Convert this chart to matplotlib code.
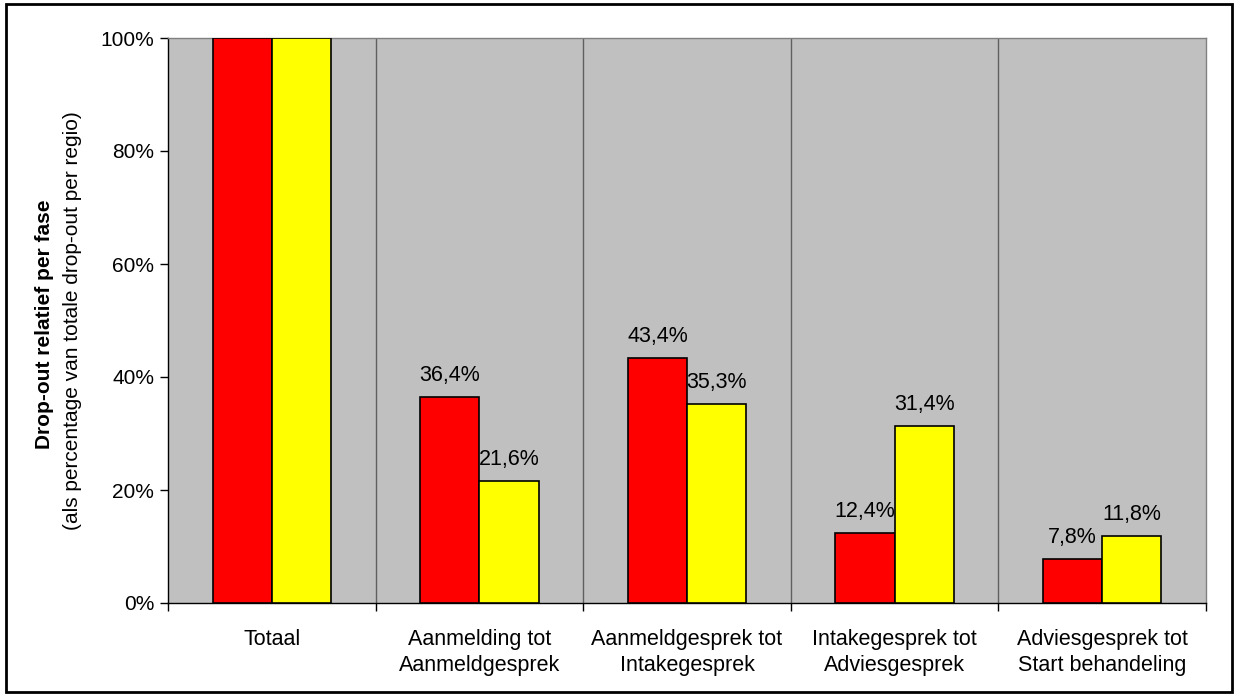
import matplotlib
matplotlib.use("Agg")
import matplotlib.pyplot as plt
import numpy as np
from matplotlib.ticker import FixedLocator, PercentFormatter

plt.rcParams['font.family'] = ['Liberation Sans', 'DejaVu Sans']

categories = ["Totaal", "Aanmelding tot\nAanmeldgesprek", "Aanmeldgesprek tot\nIntakegesprek",
              "Intakegesprek tot\nAdviesgesprek", "Adviesgesprek tot\nStart behandeling"]
red_values = [100.0, 36.4, 43.4, 12.4, 7.8]
yellow_values = [100.0, 21.6, 35.3, 31.4, 11.8]
red_labels = [None, "36,4%", "43,4%", "12,4%", "7,8%"]
yellow_labels = [None, "21,6%", "35,3%", "31,4%", "11,8%"]

fig = plt.figure(figsize=(12.38, 6.96), dpi=100)
fig.patch.set_facecolor('white')
ax = fig.add_axes([168/1238, 1-603/696, (1206-168)/1238, (603-38)/696])
ax.set_facecolor('#C0C0C0')

n = len(categories)
x = np.arange(n)
w = 0.285
ax.bar(x - w/2, red_values, w, color='#FF0000', edgecolor='black', linewidth=1.2, zorder=3)
ax.bar(x + w/2, yellow_values, w, color='#FFFF00', edgecolor='black', linewidth=1.2, zorder=3)

for i in range(n):
    if red_labels[i]:
        ax.annotate(red_labels[i], (x[i] - w/2, red_values[i]), xytext=(0, 11.5), textcoords='offset points',
                    ha='center', va='baseline', fontsize=15.5)
    if yellow_labels[i]:
        ax.annotate(yellow_labels[i], (x[i] + w/2, yellow_values[i]), xytext=(0, 11.5), textcoords='offset points',
                    ha='center', va='baseline', fontsize=15.5)

for b in np.arange(0.5, n - 0.5, 1.0):
    ax.axvline(b, color='#606060', linewidth=1.0, zorder=2)

ax.set_xlim(-0.5, n - 0.5)
ax.set_ylim(0, 100)
ax.set_yticks(np.arange(0, 101, 20))
ax.yaxis.set_major_formatter(PercentFormatter(decimals=0))
ax.set_xticks(x)
ax.set_xticklabels(categories, fontsize=15.5, linespacing=1.3)
ax.xaxis.set_minor_locator(FixedLocator(np.arange(-0.5, n, 1.0)))
ax.tick_params(axis='x', which='major', length=0, pad=19)
ax.tick_params(axis='x', which='minor', length=6, width=1, direction='out', color='black')
ax.tick_params(axis='y', length=6, width=1, direction='out', labelsize=15, pad=4)

for s in ['left', 'bottom']:
    ax.spines[s].set_color('black')
    ax.spines[s].set_linewidth(1.0)
for s in ['top', 'right']:
    ax.spines[s].set_color('#808080')
    ax.spines[s].set_linewidth(1.0)

ax.text((45-168)/1038, 0.494, "Drop-out relatief per fase", transform=ax.transAxes, rotation=90,
        ha='center', va='center', fontsize=15, fontweight='bold')
ax.text((73-168)/1038, 0.5, "(als percentage van totale drop-out per regio)", transform=ax.transAxes, rotation=90,
        ha='center', va='center', fontsize=15)

border = plt.Rectangle((6/1238, 4/696), (1232-6)/1238, (692-4)/696, transform=fig.transFigure,
                       fill=False, edgecolor='black', linewidth=2)
fig.patches.append(border)

fig.savefig("out.png", dpi=100)
